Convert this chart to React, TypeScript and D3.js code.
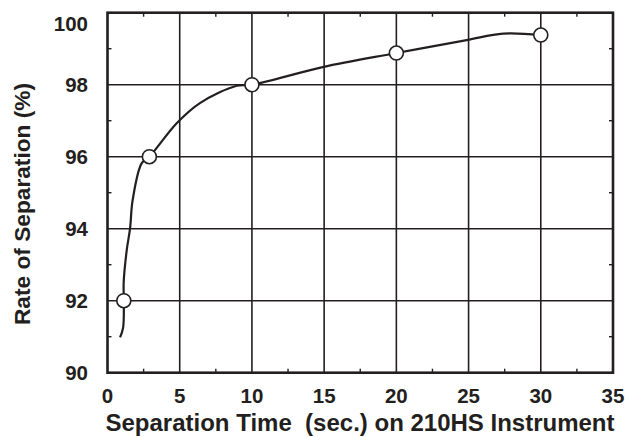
import * as d3 from 'd3';
import * as React from 'react';

// marker points (sec., %)
const markerTimes = [1.13, 2.9, 10, 20, 30];
const markerRates = [92, 96, 98, 98.88, 99.38];

// smooth curve as drawn in the figure
const curveTimes = [0.87, 1.08, 1.13, 1.12, 1.33, 1.56, 1.74, 2.37, 2.9, 4.79, 6.4, 8.95, 10, 14.9, 20, 24.87, 27.4, 30];
const curveRates = [90.98, 91.25, 92, 92.5, 93.4, 94, 94.79, 95.82, 96, 96.93, 97.49, 97.97, 98, 98.49, 98.88, 99.24, 99.42, 99.38];

const xTicks = [0, 5, 10, 15, 20, 25, 30, 35];
const yTicks = [90, 92, 94, 96, 98, 100];
const xMinor = [2.5, 7.5, 12.5, 17.5, 22.5, 27.5, 32.5];
const yMinor = [91, 93, 95, 97, 99];

const width = 629;
const height = 437;
const margin = { top: 12.7, right: 16, bottom: 64.3, left: 107.5 };
const ink = '#231f20';
const font = 'Arial, "Liberation Sans", sans-serif';

export default function App() {
    const x = d3.scaleLinear().domain([0, 35]).range([margin.left, width - margin.right]);
    const y = d3.scaleLinear().domain([90, 100]).range([height - margin.bottom, margin.top]);
    const [x0, x1] = x.range();
    const [y0, y1] = y.range();

    const line = d3.line<number>()
        .x(i => x(curveTimes[i]))
        .y(i => y(curveRates[i]))
        .curve(d3.curveCatmullRom.alpha(0.5));
    const path = line(curveTimes.map((_, i) => i)) || '';

    const tickLen = 4;

    return (
        <svg width={width} height={height} style={{ position: 'absolute', left: 0, top: 0, background: '#fff' }}
            fontFamily={font} fontWeight="bold" fill={ink}>
            {/* grid */}
            {xTicks.slice(1, -1).map(t => (
                <line key={'gx' + t} x1={x(t)} x2={x(t)} y1={y0} y2={y1} stroke={ink} strokeWidth={1.6} />
            ))}
            {yTicks.slice(1, -1).map(t => (
                <line key={'gy' + t} x1={x0} x2={x1} y1={y(t)} y2={y(t)} stroke={ink} strokeWidth={1.6} />
            ))}
            {/* minor ticks, inward on all four sides */}
            {xMinor.map(t => (
                <g key={'mx' + t} stroke={ink} strokeWidth={1.4}>
                    <line x1={x(t)} x2={x(t)} y1={y0} y2={y0 - tickLen} />
                    <line x1={x(t)} x2={x(t)} y1={y1} y2={y1 + tickLen} />
                </g>
            ))}
            {yMinor.map(t => (
                <g key={'my' + t} stroke={ink} strokeWidth={1.4}>
                    <line x1={x0} x2={x0 + tickLen} y1={y(t)} y2={y(t)} />
                    <line x1={x1} x2={x1 - tickLen} y1={y(t)} y2={y(t)} />
                </g>
            ))}
            {/* frame */}
            <rect x={x0} y={y1} width={x1 - x0} height={y0 - y1} fill="none" stroke={ink} strokeWidth={2.6} />

            {/* curve */}
            <path d={path} fill="none" stroke={ink} strokeWidth={2.2} />
            {markerTimes.map((t, i) => (
                <circle key={'m' + i} cx={x(t)} cy={y(markerRates[i])} r={7} fill="#fff" stroke={ink} strokeWidth={1.6} />
            ))}

            {/* tick labels */}
            {xTicks.map(t => (
                <text key={'tx' + t} x={x(t)} y={403} textAnchor="middle" fontSize={20.5}>{t}</text>
            ))}
            {yTicks.map(t => (
                <text key={'ty' + t} x={88} y={t === 100 ? 23.5 : y(t)} dy="0.36em" textAnchor="end" fontSize={20.5}>{t}</text>
            ))}

            {/* axis titles */}
            <text x={360} y={431} textAnchor="middle" fontSize={24}
                style={{ whiteSpace: 'pre' }}>Separation Time  (sec.) on 210HS Instrument</text>
            <text transform="translate(30,204) rotate(-90)" textAnchor="middle" fontSize={22.7}>
                Rate of Separation (%)
            </text>
        </svg>
    );
}
